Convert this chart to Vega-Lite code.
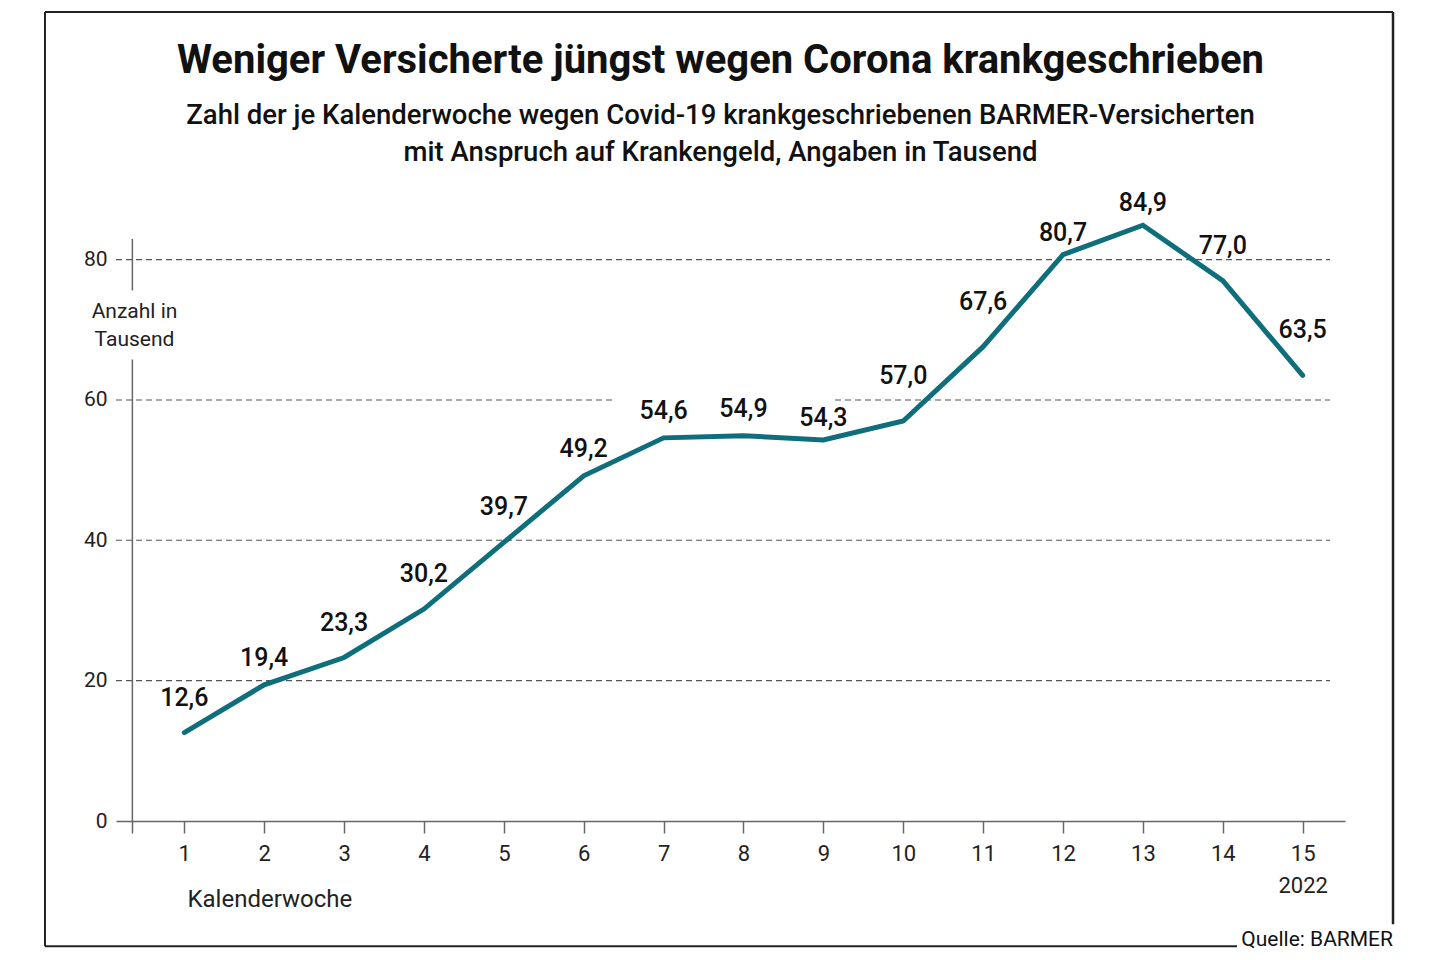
{
  "$schema": "https://vega.github.io/schema/vega-lite/v6.json",
  "autosize": "none",
  "width": 1229,
  "height": 582,
  "padding": {"left": 116, "top": 239, "right": 95, "bottom": 139},
  "background": "white",
  "config": {
    "font": "Roboto",
    "view": {"stroke": null},
    "locale": {"number": {"decimal": ",", "thousands": ".", "grouping": [3], "currency": ["", " €"]}}
  },
  "title": {
    "text": "Weniger Versicherte jüngst wegen Corona krankgeschrieben",
    "subtitle": ["Zahl der je Kalenderwoche wegen Covid-19 krankgeschriebenen BARMER-Versicherten", "mit Anspruch auf Krankengeld, Angaben in Tausend"],
    "anchor": "middle",
    "frame": "group",
    "dx": -10,
    "fontSize": 40,
    "fontWeight": "bold",
    "color": "#111",
    "subtitleFontSize": 27.5,
    "subtitleFontWeight": 500,
    "subtitleColor": "#111",
    "subtitleLineHeight": 37,
    "subtitlePadding": 21,
    "offset": -156
  },
  "data": {"values": [
    {"woche": 1, "wert": 12.6},
    {"woche": 2, "wert": 19.4},
    {"woche": 3, "wert": 23.3},
    {"woche": 4, "wert": 30.2},
    {"woche": 5, "wert": 39.7},
    {"woche": 6, "wert": 49.2},
    {"woche": 7, "wert": 54.6},
    {"woche": 8, "wert": 54.9},
    {"woche": 9, "wert": 54.3},
    {"woche": 10, "wert": 57.0},
    {"woche": 11, "wert": 67.6},
    {"woche": 12, "wert": 80.7},
    {"woche": 13, "wert": 84.9},
    {"woche": 14, "wert": 77.0},
    {"woche": 15, "wert": 63.5}
  ]},
  "encoding": {
    "x": {
      "field": "woche", "type": "quantitative",
      "scale": {"domain": [0.145, 15.53], "nice": false, "zero": false},
      "axis": {
        "values": [0.35, 1, 2, 3, 4, 5, 6, 7, 8, 9, 10, 11, 12, 13, 14, 15],
        "labelExpr": "datum.value < 1 ? '' : (datum.value == 15 ? ['15', '2022'] : datum.label)",
        "grid": false,
        "domainColor": "#666", "domainWidth": 1.5,
        "tickColor": "#666", "tickWidth": 1.5, "tickSize": 12,
        "labelFontSize": 22, "labelColor": "#222", "labelPadding": 10,
        "labelLineHeight": 32, "labelOverlap": false, "labelFlush": false,
        "title": "Kalenderwoche", "titleFontSize": 24, "titleFontWeight": "normal", "titleColor": "#222",
        "titleX": 71, "titleY": 78, "titleAlign": "left", "titleBaseline": "middle", "titleAnchor": null
      }
    },
    "y": {
      "field": "wert", "type": "quantitative",
      "scale": {"domain": [0, 82.94], "nice": false},
      "axis": {
        "values": [0, 20, 40, 60, 80],
        "domain": false, "ticks": false, "grid": false,
        "labelFontSize": 21, "labelColor": "#222", "labelPadding": 9,
        "title": ["Anzahl in", "Tausend"], "titleAngle": 0, "titleFontSize": 21, "titleFontWeight": "normal",
        "titleColor": "#222", "titleLineHeight": 28, "titleX": 18, "titleY": 72,
        "titleAlign": "center", "titleBaseline": "middle", "titleAnchor": null
      }
    }
  },
  "layer": [
    {
      "transform": [{"filter": "datum.woche == 1"}],
      "mark": {"type": "rule", "color": "#555", "strokeWidth": 1.1, "strokeDash": [6, 4]},
      "encoding": {"y": {"datum": 20}, "x": {"datum": 0.145}, "x2": {"datum": 15.342}}
    },
    {
      "transform": [{"filter": "datum.woche == 1"}],
      "mark": {"type": "rule", "color": "#555", "strokeWidth": 1.1, "strokeDash": [6, 4]},
      "encoding": {"y": {"datum": 40}, "x": {"datum": 0.145}, "x2": {"datum": 15.342}}
    },
    {
      "transform": [{"filter": "datum.woche == 1"}],
      "mark": {"type": "rule", "color": "#555", "strokeWidth": 1.1, "strokeDash": [6, 4]},
      "encoding": {"y": {"datum": 80}, "x": {"datum": 0.145}, "x2": {"datum": 15.342}}
    },
    {
      "transform": [{"filter": "datum.woche == 1"}],
      "mark": {"type": "rule", "color": "#555", "strokeWidth": 1.1, "strokeDash": [6, 4]},
      "encoding": {"y": {"datum": 60}, "x": {"datum": 0.145}, "x2": {"datum": 6.354}}
    },
    {
      "transform": [{"filter": "datum.woche == 1"}],
      "mark": {"type": "rule", "color": "#555", "strokeWidth": 1.1, "strokeDash": [6, 4]},
      "encoding": {"y": {"datum": 60}, "x": {"datum": 9.146}, "x2": {"datum": 15.342}}
    },
    {
      "transform": [{"filter": "datum.woche == 1"}],
      "mark": {"type": "rule", "color": "#666", "strokeWidth": 1.5},
      "encoding": {"x": {"datum": 0.35}, "y": {"datum": 0}, "y2": {"datum": 65.75}}
    },
    {
      "transform": [{"filter": "datum.woche == 1"}],
      "mark": {"type": "rule", "color": "#666", "strokeWidth": 1.5},
      "encoding": {"x": {"datum": 0.35}, "y": {"datum": 75.6}, "y2": {"datum": 82.94}}
    },
    {
      "mark": {"type": "line", "color": "#0f6e7c", "strokeWidth": 5, "strokeCap": "round", "strokeJoin": "miter"},
      "encoding": {}
    },
    {
      "transform": [{"filter": "indexof([9, 12, 13], datum.woche) >= 0"}],
      "mark": {"type": "text", "fontSize": 25, "fontWeight": 500, "color": "#111", "dy": -22, "baseline": "middle"},
      "encoding": {"text": {"field": "wert", "type": "quantitative", "format": ".1f"}}
    },
    {
      "transform": [{"filter": "indexof([2, 6, 7, 8], datum.woche) >= 0"}],
      "mark": {"type": "text", "fontSize": 25, "fontWeight": 500, "color": "#111", "dy": -27, "baseline": "middle"},
      "encoding": {"text": {"field": "wert", "type": "quantitative", "format": ".1f"}}
    },
    {
      "transform": [{"filter": "indexof([1, 3, 4, 5, 14], datum.woche) >= 0"}],
      "mark": {"type": "text", "fontSize": 25, "fontWeight": 500, "color": "#111", "dy": -35, "baseline": "middle"},
      "encoding": {"text": {"field": "wert", "type": "quantitative", "format": ".1f"}}
    },
    {
      "transform": [{"filter": "indexof([10, 11, 15], datum.woche) >= 0"}],
      "mark": {"type": "text", "fontSize": 25, "fontWeight": 500, "color": "#111", "dy": -45, "baseline": "middle"},
      "encoding": {"text": {"field": "wert", "type": "quantitative", "format": ".1f"}}
    },
    {
      "transform": [{"filter": "datum.woche == 1"}],
      "mark": {"type": "rule", "color": "#222", "strokeWidth": 2},
      "encoding": {"x": {"datum": -0.744}, "y": {"datum": -17.86}, "y2": {"datum": 115.29}}
    },
    {
      "transform": [{"filter": "datum.woche == 1"}],
      "mark": {"type": "rule", "color": "#222", "strokeWidth": 2},
      "encoding": {"y": {"datum": 115.29}, "x": {"datum": -0.744}, "x2": {"datum": 16.131}}
    },
    {
      "transform": [{"filter": "datum.woche == 1"}],
      "mark": {"type": "rule", "color": "#222", "strokeWidth": 2.5},
      "encoding": {"x": {"datum": 16.131}, "y": {"datum": -14.72}, "y2": {"datum": 115.29}}
    },
    {
      "transform": [{"filter": "datum.woche == 1"}],
      "mark": {"type": "rule", "color": "#222", "strokeWidth": 2},
      "encoding": {"y": {"datum": -17.86}, "x": {"datum": -0.744}, "x2": {"datum": 14.178}}
    },
    {
      "transform": [{"filter": "datum.woche == 1"}],
      "mark": {"type": "text", "text": "Quelle: BARMER", "fontSize": 21, "color": "#111", "align": "right", "baseline": "alphabetic"},
      "encoding": {"x": {"datum": 16.131}, "y": {"datum": -17.86}}
    }
  ]
}
